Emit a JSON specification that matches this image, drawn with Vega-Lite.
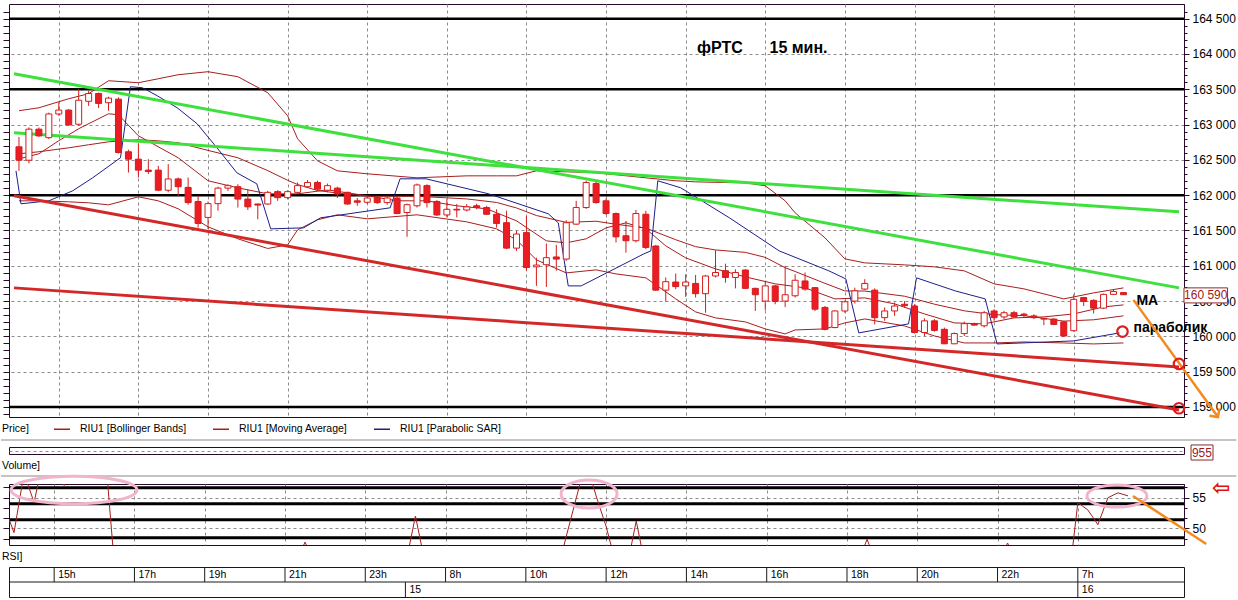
{
  "$schema": "https://vega.github.io/schema/vega-lite/v6.json",
  "background": "white",
  "padding": {"left": 0, "top": 3, "right": 0, "bottom": 0},
  "bounds": "flush",
  "spacing": 0,
  "datasets": {
    "candles": [
      {"i":0,"o":162685,"h":162825,"l":162345,"c":162495},
      {"i":1,"o":162495,"h":162960,"l":162450,"c":162935},
      {"i":2,"o":162935,"h":162960,"l":162825,"c":162840},
      {"i":3,"o":162815,"h":163170,"l":162795,"c":163150},
      {"i":4,"o":163150,"h":163315,"l":163125,"c":163205},
      {"i":5,"o":163205,"h":163220,"l":162985,"c":162995},
      {"i":6,"o":163005,"h":163505,"l":162985,"c":163345},
      {"i":7,"o":163330,"h":163480,"l":163265,"c":163440},
      {"i":8,"o":163440,"h":163455,"l":163235,"c":163300},
      {"i":9,"o":163310,"h":163395,"l":163195,"c":163375},
      {"i":10,"o":163360,"h":163385,"l":162590,"c":162605},
      {"i":11,"o":162615,"h":162645,"l":162320,"c":162510},
      {"i":12,"o":162510,"h":162725,"l":162250,"c":162355},
      {"i":13,"o":162355,"h":162510,"l":162300,"c":162335},
      {"i":14,"o":162355,"h":162415,"l":162060,"c":162070},
      {"i":15,"o":162070,"h":162440,"l":162040,"c":162230},
      {"i":16,"o":162230,"h":162250,"l":161990,"c":162120},
      {"i":17,"o":162110,"h":162250,"l":161865,"c":161895},
      {"i":18,"o":161910,"h":161990,"l":161540,"c":161600},
      {"i":19,"o":161685,"h":161910,"l":161520,"c":161880},
      {"i":20,"o":161880,"h":162120,"l":161780,"c":162100},
      {"i":21,"o":162100,"h":162155,"l":162060,"c":162135},
      {"i":22,"o":162120,"h":162155,"l":161825,"c":161945},
      {"i":23,"o":161945,"h":162085,"l":161790,"c":161835},
      {"i":24,"o":161875,"h":161880,"l":161660,"c":161860},
      {"i":25,"o":161875,"h":162060,"l":161865,"c":162040},
      {"i":26,"o":162050,"h":162070,"l":161920,"c":161965},
      {"i":27,"o":161965,"h":162070,"l":161940,"c":162050},
      {"i":28,"o":162040,"h":162180,"l":162015,"c":162135},
      {"i":29,"o":162120,"h":162215,"l":162100,"c":162180},
      {"i":30,"o":162180,"h":162205,"l":162060,"c":162085},
      {"i":31,"o":162070,"h":162165,"l":162040,"c":162135},
      {"i":32,"o":162100,"h":162120,"l":161960,"c":162015},
      {"i":33,"o":162040,"h":162050,"l":161865,"c":161875},
      {"i":34,"o":161920,"h":161960,"l":161850,"c":161900},
      {"i":35,"o":161900,"h":161990,"l":161875,"c":161960},
      {"i":36,"o":161965,"h":161990,"l":161875,"c":161895},
      {"i":37,"o":161895,"h":161975,"l":161865,"c":161960},
      {"i":38,"o":161960,"h":161975,"l":161730,"c":161740},
      {"i":39,"o":161755,"h":161880,"l":161410,"c":161865},
      {"i":40,"o":161850,"h":162165,"l":161825,"c":162145},
      {"i":41,"o":162135,"h":162155,"l":161825,"c":161895},
      {"i":42,"o":161910,"h":161930,"l":161705,"c":161720},
      {"i":43,"o":161720,"h":161945,"l":161685,"c":161800},
      {"i":44,"o":161800,"h":161875,"l":161685,"c":161790},
      {"i":45,"o":161790,"h":161875,"l":161770,"c":161835},
      {"i":46,"o":161850,"h":161880,"l":161800,"c":161825},
      {"i":47,"o":161825,"h":161850,"l":161720,"c":161730},
      {"i":48,"o":161730,"h":161800,"l":161540,"c":161600},
      {"i":49,"o":161610,"h":161780,"l":161235,"c":161250},
      {"i":50,"o":161250,"h":161495,"l":161210,"c":161450},
      {"i":51,"o":161470,"h":161705,"l":160930,"c":160975},
      {"i":52,"o":160985,"h":161115,"l":160715,"c":161010},
      {"i":53,"o":161015,"h":161315,"l":160700,"c":161115},
      {"i":54,"o":161125,"h":161295,"l":160930,"c":161095},
      {"i":55,"o":161095,"h":161645,"l":161070,"c":161610},
      {"i":56,"o":161590,"h":161920,"l":161580,"c":161825},
      {"i":57,"o":161825,"h":162205,"l":161805,"c":162180},
      {"i":58,"o":162165,"h":162190,"l":161880,"c":161895},
      {"i":59,"o":161920,"h":161950,"l":161720,"c":161740},
      {"i":60,"o":161740,"h":161755,"l":161330,"c":161410},
      {"i":61,"o":161425,"h":161635,"l":161185,"c":161355},
      {"i":62,"o":161355,"h":161790,"l":161330,"c":161740},
      {"i":63,"o":161730,"h":161780,"l":161235,"c":161260},
      {"i":64,"o":161280,"h":161295,"l":160645,"c":160655},
      {"i":65,"o":160655,"h":160835,"l":160495,"c":160775},
      {"i":66,"o":160770,"h":160890,"l":160670,"c":160705},
      {"i":67,"o":160715,"h":160880,"l":160560,"c":160770},
      {"i":68,"o":160750,"h":160870,"l":160550,"c":160605},
      {"i":69,"o":160605,"h":160870,"l":160335,"c":160855},
      {"i":70,"o":160855,"h":161220,"l":160835,"c":160905},
      {"i":71,"o":160930,"h":161030,"l":160760,"c":160835},
      {"i":72,"o":160835,"h":160950,"l":160680,"c":160905},
      {"i":73,"o":160940,"h":160950,"l":160670,"c":160680},
      {"i":74,"o":160680,"h":160690,"l":160360,"c":160590},
      {"i":75,"o":160500,"h":160785,"l":160370,"c":160715},
      {"i":76,"o":160715,"h":160730,"l":160455,"c":160495},
      {"i":77,"o":160500,"h":161000,"l":160415,"c":160590},
      {"i":78,"o":160575,"h":160880,"l":160550,"c":160795},
      {"i":79,"o":160785,"h":160905,"l":160645,"c":160670},
      {"i":80,"o":160690,"h":160700,"l":160360,"c":160385},
      {"i":81,"o":160410,"h":160430,"l":160085,"c":160100},
      {"i":82,"o":160125,"h":160370,"l":160115,"c":160360},
      {"i":83,"o":160360,"h":160510,"l":160335,"c":160490},
      {"i":84,"o":160500,"h":160690,"l":160465,"c":160645},
      {"i":85,"o":160670,"h":160810,"l":160655,"c":160750},
      {"i":86,"o":160655,"h":160680,"l":160170,"c":160265},
      {"i":87,"o":160265,"h":160410,"l":160220,"c":160360},
      {"i":88,"o":160360,"h":160480,"l":160290,"c":160430},
      {"i":89,"o":160455,"h":160500,"l":160410,"c":160435},
      {"i":90,"o":160430,"h":160455,"l":160040,"c":160055},
      {"i":91,"o":160055,"h":160255,"l":160005,"c":160220},
      {"i":92,"o":160220,"h":160245,"l":160065,"c":160085},
      {"i":93,"o":160100,"h":160125,"l":159890,"c":159895},
      {"i":94,"o":159895,"h":160055,"l":159890,"c":160040},
      {"i":95,"o":160040,"h":160210,"l":160005,"c":160180},
      {"i":96,"o":160180,"h":160195,"l":160150,"c":160160},
      {"i":97,"o":160150,"h":160360,"l":160125,"c":160335},
      {"i":98,"o":160360,"h":160385,"l":160220,"c":160265},
      {"i":99,"o":160275,"h":160360,"l":160245,"c":160335},
      {"i":100,"o":160335,"h":160360,"l":160265,"c":160275},
      {"i":101,"o":160315,"h":160335,"l":160265,"c":160300},
      {"i":102,"o":160290,"h":160315,"l":160245,"c":160265},
      {"i":103,"o":160255,"h":160260,"l":160160,"c":160245},
      {"i":104,"o":160245,"h":160255,"l":160160,"c":160170},
      {"i":105,"o":160205,"h":160220,"l":159990,"c":160005},
      {"i":106,"o":160080,"h":160595,"l":160065,"c":160525},
      {"i":107,"o":160550,"h":160560,"l":160430,"c":160495},
      {"i":108,"o":160510,"h":160525,"l":160325,"c":160400},
      {"i":109,"o":160400,"h":160605,"l":160385,"c":160595},
      {"i":110,"o":160595,"h":160670,"l":160590,"c":160635},
      {"i":111,"o":160620,"h":160625,"l":160590,"c":160590}
    ],
    "bands": [
      {"i":0,"upper":163196,"middle":162586,"lower":161920},
      {"i":2,"upper":163238,"middle":162615,"lower":161920},
      {"i":5,"upper":163366,"middle":162671,"lower":161906},
      {"i":7,"upper":163437,"middle":162714,"lower":161892},
      {"i":9,"upper":163621,"middle":162756,"lower":161863},
      {"i":12,"upper":163593,"middle":162785,"lower":161977},
      {"i":14,"upper":163649,"middle":162770,"lower":161920},
      {"i":16,"upper":163706,"middle":162742,"lower":161807},
      {"i":19,"upper":163749,"middle":162634,"lower":161552},
      {"i":22,"upper":163678,"middle":162530,"lower":161382},
      {"i":25,"upper":163451,"middle":162348,"lower":161245},
      {"i":27,"upper":163125,"middle":162211,"lower":161296},
      {"i":28,"upper":162799,"middle":162151,"lower":161509},
      {"i":30,"upper":162487,"middle":162066,"lower":161651},
      {"i":32,"upper":162345,"middle":162031,"lower":161722},
      {"i":35,"upper":162303,"middle":161985,"lower":161665},
      {"i":40,"upper":162246,"middle":161985,"lower":161722},
      {"i":45,"upper":162274,"middle":161947,"lower":161622},
      {"i":48,"upper":162274,"middle":161897,"lower":161523},
      {"i":50,"upper":162274,"middle":161819,"lower":161367},
      {"i":52,"upper":162345,"middle":161712,"lower":161084},
      {"i":55,"upper":162331,"middle":161615,"lower":160899},
      {"i":58,"upper":162317,"middle":161631,"lower":160942},
      {"i":60,"upper":162289,"middle":161588,"lower":160885},
      {"i":63,"upper":162246,"middle":161534,"lower":160829},
      {"i":66,"upper":162204,"middle":161369,"lower":160531},
      {"i":68,"upper":162189,"middle":161271,"lower":160347},
      {"i":70,"upper":162182,"middle":161224,"lower":160262},
      {"i":73,"upper":162175,"middle":161190,"lower":160205},
      {"i":75,"upper":162133,"middle":161119,"lower":160106},
      {"i":77,"upper":161920,"middle":160973,"lower":160035},
      {"i":78,"upper":161750,"middle":160919,"lower":160091},
      {"i":81,"upper":161396,"middle":160751,"lower":160106},
      {"i":83,"upper":161098,"middle":160644,"lower":160191},
      {"i":85,"upper":161041,"middle":160642,"lower":160247},
      {"i":89,"upper":161013,"middle":160569,"lower":160148},
      {"i":92,"upper":160985,"middle":160456,"lower":160006},
      {"i":95,"upper":160928,"middle":160362,"lower":159907},
      {"i":98,"upper":160744,"middle":160307,"lower":159907},
      {"i":101,"upper":160673,"middle":160294,"lower":159921},
      {"i":105,"upper":160531,"middle":160216,"lower":159907},
      {"i":108,"upper":160616,"middle":160235,"lower":159893},
      {"i":111,"upper":160687,"middle":160291,"lower":159907}
    ],
    "ma": [
      {"i":0,"p":162515},{"i":2,"p":162586},{"i":4,"p":162771},{"i":6,"p":162941},
      {"i":9,"p":163153},{"i":10,"p":163139},{"i":12,"p":162841},{"i":16,"p":162530},
      {"i":19,"p":162204},{"i":22,"p":162104},{"i":25,"p":162019},{"i":28,"p":162019},
      {"i":31,"p":162076},{"i":35,"p":161991},{"i":38,"p":161920},{"i":41,"p":161920},
      {"i":44,"p":161849},{"i":47,"p":161807},{"i":50,"p":161637},{"i":53,"p":161353},
      {"i":55,"p":161325},{"i":57,"p":161382},{"i":59,"p":161537},{"i":61,"p":161608},
      {"i":63,"p":161523},{"i":65,"p":161282},{"i":67,"p":161112},{"i":70,"p":160956},
      {"i":73,"p":160843},{"i":76,"p":160744},{"i":79,"p":160687},{"i":82,"p":160531},
      {"i":85,"p":160545},{"i":88,"p":160460},{"i":91,"p":160318},{"i":94,"p":160191},
      {"i":97,"p":160177},{"i":100,"p":160262},{"i":103,"p":160276},{"i":106,"p":160318},
      {"i":109,"p":160417},{"i":111,"p":160446}
    ],
    "sar": [
      {"i":-0.3,"p":162345},{"i":0.2,"p":161878},{"i":3.0,"p":161920},{"i":5.4,"p":162062},
      {"i":7.4,"p":162246},{"i":10.2,"p":162530},{"i":11.2,"p":163536},{"i":12.4,"p":163522},
      {"i":13.9,"p":163408},{"i":15.9,"p":163238},{"i":17.9,"p":163012},{"i":19.9,"p":162671},
      {"i":21.9,"p":162317},{"i":23.9,"p":162161},{"i":25.3,"p":161523},{"i":28.6,"p":161537},
      {"i":30.3,"p":161679},{"i":37.3,"p":161821},{"i":38.3,"p":162232},{"i":40.9,"p":162232},
      {"i":47.2,"p":162019},{"i":53.2,"p":161736},{"i":54.2,"p":161608},{"i":54.8,"p":161070},
      {"i":55.2,"p":160715},{"i":56.5,"p":160715},{"i":62.8,"p":161169},{"i":63.5,"p":161211},
      {"i":64.2,"p":162204},{"i":66.5,"p":162105},{"i":71.4,"p":161679},{"i":76.4,"p":161211},
      {"i":81.4,"p":160928},{"i":83.1,"p":160814},{"i":84.4,"p":160049},{"i":89.4,"p":160177},
      {"i":90.2,"p":160829},{"i":94.1,"p":160644},{"i":97.1,"p":160531},{"i":98.3,"p":159893},
      {"i":106.0,"p":159936},{"i":110.6,"p":160049}
    ],
    "levels": [{"level":164500},{"level":163500},{"level":162000},{"level":159000}],
    "tl_green": [
      {"line":"a","i":-0.5,"p":163720},{"line":"a","i":116.58,"p":160687},
      {"line":"b","i":-0.5,"p":162884},{"line":"b","i":116.58,"p":161764}
    ],
    "tl_red": [
      {"line":"a","i":-0.5,"p":161991},{"line":"a","i":116.58,"p":158958},
      {"line":"b","i":-0.5,"p":160687},{"line":"b","i":116.58,"p":159567}
    ],
    "rsi": [
      {"i":-0.5,"r":51.5},{"i":0,"r":49.3},{"i":1,"r":59},{"i":2,"r":54.2},{"i":3,"r":62},
      {"i":5,"r":57.0},{"i":6,"r":64},{"i":9,"r":64},{"i":10,"r":44},{"i":28,"r":44},
      {"i":29,"r":47.75},{"i":30,"r":44},{"i":39,"r":44},{"i":40,"r":52.0},{"i":41,"r":44},
      {"i":54,"r":42},{"i":55,"r":48.5},{"i":56,"r":54.8},{"i":57,"r":61},{"i":58,"r":55.3},
      {"i":59,"r":50.3},{"i":60,"r":44},{"i":61,"r":43},{"i":62,"r":51.2},{"i":63,"r":43},
      {"i":84,"r":44},{"i":85,"r":48.2},{"i":86,"r":44},{"i":98,"r":44},{"i":99,"r":47.6},
      {"i":100,"r":44},{"i":105,"r":40},{"i":106,"r":54.2},{"i":107,"r":53.0},{"i":108,"r":50.6},
      {"i":109,"r":55.0},{"i":110,"r":55.8},{"i":111,"r":55.3}
    ],
    "rsilevels": [{"level":56.63},{"level":54.02},{"level":51.41},{"level":48.46}],
    "ellipses": [{"e":1,"i":5.98,"r":56.26},{"e":2,"i":57.3,"r":55.6},{"e":3,"i":109.9,"r":55.28}],
    "hours": [
      {"i":4,"t":"15h"},{"i":12,"t":"17h"},{"i":19,"t":"19h"},{"i":27,"t":"21h"},{"i":35,"t":"23h"},
      {"i":43,"t":"8h"},{"i":51,"t":"10h"},{"i":59,"t":"12h"},{"i":67,"t":"14h"},{"i":75,"t":"16h"},
      {"i":83,"t":"18h"},{"i":90,"t":"20h"},{"i":98,"t":"22h"},{"i":106,"t":"7h"}
    ],
    "days": [{"i":39,"t":"15"},{"i":106,"t":"16"}]
  },
  "vconcat": [
    {
      "width": 1175,
      "height": 413,
      "view": {"stroke": "#2a0a2a", "strokeWidth": 1},
      "resolve": {"axis": {"y": "independent"}},
      "layer": [
        {
          "data": {"name": "levels"},
          "mark": {"type": "rule", "color": "#000000", "strokeWidth": 2.5},
          "encoding": {
            "y": {
              "field": "level", "type": "quantitative",
              "scale": {"domain": [158858, 164708], "nice": false, "zero": false},
              "axis": {
                "orient": "right",
                "values": [158900,159000,159100,159200,159300,159400,159500,159600,159700,159800,159900,160000,160100,160200,160300,160400,160500,160600,160700,160800,160900,161000,161100,161200,161300,161400,161500,161600,161700,161800,161900,162000,162100,162200,162300,162400,162500,162600,162700,162800,162900,163000,163100,163200,163300,163400,163500,163600,163700,163800,163900,164000,164100,164200,164300,164400,164500,164600],
                "tickCount": 200,
                "grid": true, "gridDash": [3, 3], "gridColor": "#8c8c8c",
                "gridOpacity": {"condition": {"test": "datum.value % 500 === 0", "value": 1}, "value": 0},
                "tickSize": {"condition": {"test": "datum.value % 500 === 0", "value": 5}, "value": 3},
                "tickColor": "#2a0a2a", "domainColor": "#2a0a2a", "domain": true, "ticks": true, "labels": true,
                "labelExpr": "datum.value % 500 === 0 ? replace(format(datum.value, ','), ',', ' ') : ''",
                "labelFont": "Liberation Sans", "labelFontSize": 12, "labelColor": "#000000",
                "labelPadding": 3, "labelBound": false, "labelOverlap": false, "title": null
              }
            }
          }
        },
        {
          "data": {"name": "bands"},
          "transform": [{"fold": ["upper", "middle", "lower"], "as": ["band", "p"]}],
          "mark": {"type": "line", "strokeWidth": 1},
          "encoding": {
            "x": {
              "field": "i", "type": "quantitative",
              "scale": {"domain": [-0.5, 116.58], "nice": false, "zero": false},
              "axis": {
                "values": [4, 12, 19, 27, 35, 43, 51, 59, 67, 75, 83, 90, 98, 106],
                "tickCount": 200,
                "grid": true, "gridDash": [3, 3], "gridColor": "#8c8c8c",
                "labels": false, "ticks": false, "domain": false, "title": null
              }
            },
            "y": {
              "field": "p", "type": "quantitative",
              "axis": {
                "orient": "left",
                "values": [158900,159000,159100,159200,159300,159400,159500,159600,159700,159800,159900,160000,160100,160200,160300,160400,160500,160600,160700,160800,160900,161000,161100,161200,161300,161400,161500,161600,161700,161800,161900,162000,162100,162200,162300,162400,162500,162600,162700,162800,162900,163000,163100,163200,163300,163400,163500,163600,163700,163800,163900,164000,164100,164200,164300,164400,164500,164600],
                "tickCount": 200, "tickSize": 6, "tickColor": "#2a0a2a",
                "labels": false, "domain": false, "grid": false, "title": null
              }
            },
            "detail": {"field": "band"},
            "color": {
              "datum": "RIU1 [Bollinger Bands]", "type": "nominal",
              "scale": {"domain": ["RIU1 [Bollinger Bands]", "RIU1 [Moving Average]", "RIU1 [Parabolic SAR]"], "range": ["#a81e1e", "#a81e1e", "#1e1e8c"]},
              "legend": {
                "orient": "none", "legendX": 44, "legendY": 416, "direction": "horizontal",
                "title": null, "symbolType": "stroke", "symbolSize": 256, "symbolStrokeWidth": 1.5,
                "labelFont": "Liberation Sans", "labelFontSize": 10.5,
                "labelColor": "#000000", "labelOffset": 9, "columnPadding": 23, "padding": 0
              }
            }
          }
        },
        {
          "data": {"name": "ma"},
          "mark": {"type": "line", "strokeWidth": 1},
          "encoding": {
            "x": {"field": "i", "type": "quantitative"},
            "y": {"field": "p", "type": "quantitative", "axis": null},
            "color": {"datum": "RIU1 [Moving Average]", "type": "nominal"}
          }
        },
        {
          "data": {"name": "sar"},
          "mark": {"type": "line", "strokeWidth": 1},
          "encoding": {
            "x": {"field": "i", "type": "quantitative"},
            "y": {"field": "p", "type": "quantitative", "axis": null},
            "color": {"datum": "RIU1 [Parabolic SAR]", "type": "nominal"}
          }
        },
        {
          "data": {"name": "tl_green"},
          "mark": {"type": "line", "color": "#3ee03e", "strokeWidth": 3},
          "encoding": {
            "x": {"field": "i", "type": "quantitative"},
            "y": {"field": "p", "type": "quantitative", "axis": null},
            "detail": {"field": "line"}
          }
        },
        {
          "data": {"name": "tl_red"},
          "mark": {"type": "line", "color": "#d42828", "strokeWidth": 3},
          "encoding": {
            "x": {"field": "i", "type": "quantitative"},
            "y": {"field": "p", "type": "quantitative", "axis": null},
            "detail": {"field": "line"}
          }
        },
        {
          "data": {"name": "candles"},
          "mark": {"type": "rule", "color": "#d41c1c", "strokeWidth": 1},
          "encoding": {
            "x": {"field": "i", "type": "quantitative"},
            "y": {"field": "l", "type": "quantitative", "axis": null},
            "y2": {"field": "h"}
          }
        },
        {
          "data": {"name": "candles"},
          "mark": {"type": "bar", "width": 6, "stroke": "#d41c1c", "strokeWidth": 1},
          "encoding": {
            "x": {"field": "i", "type": "quantitative"},
            "y": {"field": "o", "type": "quantitative", "axis": null},
            "y2": {"field": "c"},
            "fill": {"condition": {"test": "datum.c < datum.o", "value": "#ec1c24"}, "value": "#ffffff"}
          }
        },
        {
          "data": {"values": [{"i": 117.08, "i2": 121.46, "p": 160687, "p2": 160474}]},
          "mark": {"type": "rect", "fill": "#ffffff", "stroke": "#8a2a2a", "strokeWidth": 1},
          "encoding": {
            "x": {"field": "i", "type": "quantitative"},
            "x2": {"field": "i2"},
            "y": {"field": "p", "type": "quantitative", "axis": null},
            "y2": {"field": "p2"}
          }
        },
        {
          "data": {"values": [{"i": 119.27, "p": 160580, "t": "160 590"}]},
          "mark": {"type": "text", "align": "center", "baseline": "middle", "font": "Liberation Sans", "fontSize": 12, "color": "#a01818"},
          "encoding": {
            "x": {"field": "i", "type": "quantitative"},
            "y": {"field": "p", "type": "quantitative", "axis": null},
            "text": {"field": "t"}
          }
        },
        {
          "data": {"values": [{"i": 68.15, "p": 164089, "t": "фРТС"}, {"i": 75.43, "p": 164089, "t": "15 мин."}]},
          "mark": {"type": "text", "align": "left", "baseline": "middle", "font": "Liberation Sans", "fontSize": 16, "fontWeight": "bold", "color": "#000000"},
          "encoding": {
            "x": {"field": "i", "type": "quantitative"},
            "y": {"field": "p", "type": "quantitative", "axis": null},
            "text": {"field": "t"}
          }
        },
        {
          "data": {"values": [{"i": 112.3, "p": 160495, "t": "МА"}, {"i": 112.0, "p": 160125, "t": "параболик"}]},
          "mark": {"type": "text", "align": "left", "baseline": "middle", "font": "Liberation Sans", "fontSize": 14, "fontWeight": "bold", "color": "#000000"},
          "encoding": {
            "x": {"field": "i", "type": "quantitative"},
            "y": {"field": "p", "type": "quantitative", "axis": null},
            "text": {"field": "t"}
          }
        },
        {
          "data": {"values": [{"i": 112.0, "p": 160517}, {"i": 120.5, "p": 158858}]},
          "mark": {"type": "line", "color": "#f28a1e", "strokeWidth": 2.5},
          "encoding": {
            "x": {"field": "i", "type": "quantitative"},
            "y": {"field": "p", "type": "quantitative", "axis": null}
          }
        },
        {
          "data": {"values": [{"i": 120.5, "p": 158858}]},
          "mark": {"type": "point", "shape": "M -1 -1 L 0 0 L 1 -1", "filled": false, "color": "#f28a1e", "strokeWidth": 2.5, "size": 150, "angle": 324, "opacity": 1},
          "encoding": {
            "x": {"field": "i", "type": "quantitative"},
            "y": {"field": "p", "type": "quantitative", "axis": null}
          }
        },
        {
          "data": {"values": [{"i": 110.9, "p": 160068}, {"i": 116.58, "p": 159610}, {"i": 116.58, "p": 158982}]},
          "mark": {"type": "point", "shape": "circle", "filled": false, "color": "#e01c1c", "strokeWidth": 2.2, "size": 110, "opacity": 1},
          "encoding": {
            "x": {"field": "i", "type": "quantitative"},
            "y": {"field": "p", "type": "quantitative", "axis": null}
          }
        }
      ]
    },
    {
      "width": 1175,
      "height": 30,
      "view": {"stroke": null},
      "layer": [
        {
          "data": {"values": [{"i": -1.2, "y": 12, "t": "Price]"}]},
          "mark": {"type": "text", "align": "left", "baseline": "middle", "font": "Liberation Sans", "fontSize": 10.5, "color": "#000000"},
          "encoding": {
            "x": {"field": "i", "type": "quantitative", "scale": {"domain": [-0.5, 116.58], "nice": false, "zero": false}, "axis": null},
            "y": {"field": "y", "type": "quantitative", "scale": {"domain": [0, 30], "reverse": true, "nice": false, "zero": false}, "axis": null},
            "text": {"field": "t"}
          }
        },
        {
          "data": {"values": [{"i": -1.295, "i2": 121.8, "y": 23}]},
          "mark": {"type": "rule", "color": "#c4c4c4", "strokeWidth": 2},
          "encoding": {
            "x": {"field": "i", "type": "quantitative", "axis": null},
            "x2": {"field": "i2"},
            "y": {"field": "y", "type": "quantitative", "axis": null}
          }
        }
      ]
    },
    {
      "width": 1175,
      "height": 7,
      "view": {"stroke": "#2a0a2a", "strokeWidth": 1},
      "layer": [
        {
          "data": {"values": [{"i": 117.28, "i2": 119.47, "y": 1.29, "y2": -0.86}]},
          "mark": {"type": "rect", "fill": "#ffffff", "stroke": "#8a2a2a", "strokeWidth": 1},
          "encoding": {
            "x": {"field": "i", "type": "quantitative", "scale": {"domain": [-0.5, 116.58], "nice": false, "zero": false}, "axis": null},
            "x2": {"field": "i2"},
            "y": {
              "field": "y", "type": "quantitative",
              "scale": {"domain": [0, 1], "nice": false, "zero": false},
              "axis": {"values": [0.5], "tickCount": 10, "grid": true, "gridDash": [3, 3], "gridColor": "#8c8c8c", "labels": false, "ticks": false, "domain": false, "title": null}
            },
            "y2": {"field": "y2"}
          }
        },
        {
          "data": {"values": [{"i": 118.37, "y": 0.2, "t": "955"}]},
          "mark": {"type": "text", "align": "center", "baseline": "middle", "font": "Liberation Sans", "fontSize": 12, "color": "#a01818"},
          "encoding": {
            "x": {"field": "i", "type": "quantitative", "axis": null},
            "y": {"field": "y", "type": "quantitative"},
            "text": {"field": "t"}
          }
        }
      ]
    },
    {
      "width": 1175,
      "height": 30,
      "view": {"stroke": null},
      "layer": [
        {
          "data": {"values": [{"i": -1.2, "y": 12, "t": "Volume]"}]},
          "mark": {"type": "text", "align": "left", "baseline": "middle", "font": "Liberation Sans", "fontSize": 10.5, "color": "#000000"},
          "encoding": {
            "x": {"field": "i", "type": "quantitative", "scale": {"domain": [-0.5, 116.58], "nice": false, "zero": false}, "axis": null},
            "y": {"field": "y", "type": "quantitative", "scale": {"domain": [0, 30], "reverse": true, "nice": false, "zero": false}, "axis": null},
            "text": {"field": "t"}
          }
        },
        {
          "data": {"values": [{"i": -1.295, "i2": 121.8, "y": 22}]},
          "mark": {"type": "rule", "color": "#c4c4c4", "strokeWidth": 2},
          "encoding": {
            "x": {"field": "i", "type": "quantitative", "axis": null},
            "x2": {"field": "i2"},
            "y": {"field": "y", "type": "quantitative", "axis": null}
          }
        }
      ]
    },
    {
      "width": 1175,
      "height": 61,
      "view": {"stroke": "#2a0a2a", "strokeWidth": 1},
      "resolve": {"axis": {"y": "independent"}},
      "layer": [
        {
          "data": {"name": "rsilevels"},
          "mark": {"type": "rule", "color": "#000000", "strokeWidth": 3},
          "encoding": {
            "y": {
              "field": "level", "type": "quantitative",
              "scale": {"domain": [47.27, 57.24], "nice": false, "zero": false},
              "axis": {
                "orient": "right",
                "values": [48.33, 50, 51.67, 53.33, 55, 56.67],
                "tickCount": 100,
                "grid": true, "gridDash": [3, 3], "gridColor": "#8c8c8c",
                "gridOpacity": {"condition": {"test": "abs(datum.value - 50) < 0.01 || abs(datum.value - 55) < 0.01", "value": 1}, "value": 0},
                "tickSize": {"condition": {"test": "abs(datum.value - 50) < 0.01 || abs(datum.value - 55) < 0.01", "value": 5}, "value": 3},
                "tickColor": "#2a0a2a", "domainColor": "#2a0a2a", "domain": true, "ticks": true, "labels": true,
                "labelExpr": "abs(datum.value - 50) < 0.01 || abs(datum.value - 55) < 0.01 ? format(datum.value, 'd') : ''",
                "labelFont": "Liberation Sans", "labelFontSize": 12, "labelColor": "#000000",
                "labelPadding": 3, "labelBound": false, "labelOverlap": false, "title": null
              }
            }
          }
        },
        {
          "data": {"name": "rsi"},
          "mark": {"type": "line", "color": "#a81e1e", "strokeWidth": 1, "clip": true},
          "encoding": {
            "x": {
              "field": "i", "type": "quantitative",
              "scale": {"domain": [-0.5, 116.58], "nice": false, "zero": false},
              "axis": {
                "values": [4, 12, 19, 27, 35, 43, 51, 59, 67, 75, 83, 90, 98, 106],
                "tickCount": 200,
                "grid": true, "gridDash": [3, 3], "gridColor": "#8c8c8c",
                "labels": false, "ticks": false, "domain": false, "title": null
              }
            },
            "y": {
              "field": "r", "type": "quantitative",
              "axis": {
                "orient": "left",
                "values": [48.33, 50, 51.67, 53.33, 55, 56.67],
                "tickCount": 100, "tickSize": 6, "tickColor": "#2a0a2a",
                "labels": false, "domain": false, "grid": false, "title": null
              }
            }
          }
        },
        {
          "data": {"name": "ellipses"},
          "transform": [{"filter": "datum.e === 1"}],
          "mark": {"type": "point", "shape": "M -1 0 A 1 0.22 0 1 1 1 0 A 1 0.22 0 1 1 -1 0 Z", "filled": false, "color": "#f2b4cc", "strokeWidth": 3, "size": 15876, "opacity": 1},
          "encoding": {
            "x": {"field": "i", "type": "quantitative"},
            "y": {"field": "r", "type": "quantitative", "axis": null}
          }
        },
        {
          "data": {"name": "ellipses"},
          "transform": [{"filter": "datum.e === 2"}],
          "mark": {"type": "point", "shape": "M -1 0 A 1 0.5 0 1 1 1 0 A 1 0.5 0 1 1 -1 0 Z", "filled": false, "color": "#f2b4cc", "strokeWidth": 3, "size": 3136, "opacity": 1},
          "encoding": {
            "x": {"field": "i", "type": "quantitative"},
            "y": {"field": "r", "type": "quantitative", "axis": null}
          }
        },
        {
          "data": {"name": "ellipses"},
          "transform": [{"filter": "datum.e === 3"}],
          "mark": {"type": "point", "shape": "M -1 0 A 1 0.37 0 1 1 1 0 A 1 0.37 0 1 1 -1 0 Z", "filled": false, "color": "#f2b4cc", "strokeWidth": 3, "size": 3600, "opacity": 1},
          "encoding": {
            "x": {"field": "i", "type": "quantitative"},
            "y": {"field": "r", "type": "quantitative", "axis": null}
          }
        },
        {
          "data": {"values": [{"i": 111.5, "r": 55.28}, {"i": 118.8, "r": 47.43}]},
          "mark": {"type": "line", "color": "#f28a1e", "strokeWidth": 2.5},
          "encoding": {
            "x": {"field": "i", "type": "quantitative"},
            "y": {"field": "r", "type": "quantitative", "axis": null}
          }
        },
        {
          "data": {"values": [{"i": 120.3, "r": 56.6, "t": "⇦"}]},
          "mark": {"type": "text", "align": "center", "baseline": "middle", "font": "DejaVu Sans", "fontSize": 22, "fontWeight": "bold", "color": "#e01010"},
          "encoding": {
            "x": {"field": "i", "type": "quantitative"},
            "y": {"field": "r", "type": "quantitative", "axis": null},
            "text": {"field": "t"}
          }
        }
      ]
    },
    {
      "width": 1175,
      "height": 22,
      "view": {"stroke": null},
      "layer": [
        {
          "data": {"values": [{"i": -1.2, "y": 12, "t": "RSI]"}]},
          "mark": {"type": "text", "align": "left", "baseline": "middle", "font": "Liberation Sans", "fontSize": 10.5, "color": "#000000"},
          "encoding": {
            "x": {"field": "i", "type": "quantitative", "scale": {"domain": [-0.5, 116.58], "nice": false, "zero": false}, "axis": null},
            "y": {"field": "y", "type": "quantitative", "scale": {"domain": [0, 22], "reverse": true, "nice": false, "zero": false}, "axis": null},
            "text": {"field": "t"}
          }
        }
      ]
    },
    {
      "width": 1175,
      "height": 30,
      "view": {"stroke": "#1a1a1a", "strokeWidth": 1},
      "layer": [
        {
          "data": {"name": "hours"},
          "mark": {"type": "rule", "color": "#1a1a1a", "strokeWidth": 1},
          "encoding": {
            "x": {"field": "i", "type": "quantitative", "scale": {"domain": [-0.5, 116.58], "nice": false, "zero": false}, "axis": null},
            "y": {"datum": 0, "type": "quantitative", "scale": {"domain": [0, 2], "reverse": true, "nice": false, "zero": false}, "axis": null},
            "y2": {"datum": 1}
          }
        },
        {
          "data": {"values": [{"y": 1}]},
          "mark": {"type": "rule", "color": "#1a1a1a", "strokeWidth": 1},
          "encoding": {
            "y": {"field": "y", "type": "quantitative", "axis": null}
          }
        },
        {
          "data": {"name": "hours"},
          "mark": {"type": "text", "align": "left", "baseline": "middle", "dx": 4, "font": "Liberation Sans", "fontSize": 10.5, "color": "#000000"},
          "encoding": {
            "x": {"field": "i", "type": "quantitative", "axis": null},
            "y": {"datum": 0.5, "type": "quantitative", "axis": null},
            "text": {"field": "t"}
          }
        },
        {
          "data": {"name": "days"},
          "mark": {"type": "rule", "color": "#1a1a1a", "strokeWidth": 1},
          "encoding": {
            "x": {"field": "i", "type": "quantitative", "axis": null},
            "y": {"datum": 1, "type": "quantitative", "axis": null},
            "y2": {"datum": 2}
          }
        },
        {
          "data": {"name": "days"},
          "mark": {"type": "text", "align": "left", "baseline": "middle", "dx": 4, "font": "Liberation Sans", "fontSize": 10.5, "color": "#000000"},
          "encoding": {
            "x": {"field": "i", "type": "quantitative", "axis": null},
            "y": {"datum": 1.5, "type": "quantitative", "axis": null},
            "text": {"field": "t"}
          }
        }
      ]
    }
  ],
  "config": {
    "font": "Liberation Sans",
    "axis": {"labelFont": "Liberation Sans", "labelFontSize": 12, "labelColor": "#000000"}
  }
}
